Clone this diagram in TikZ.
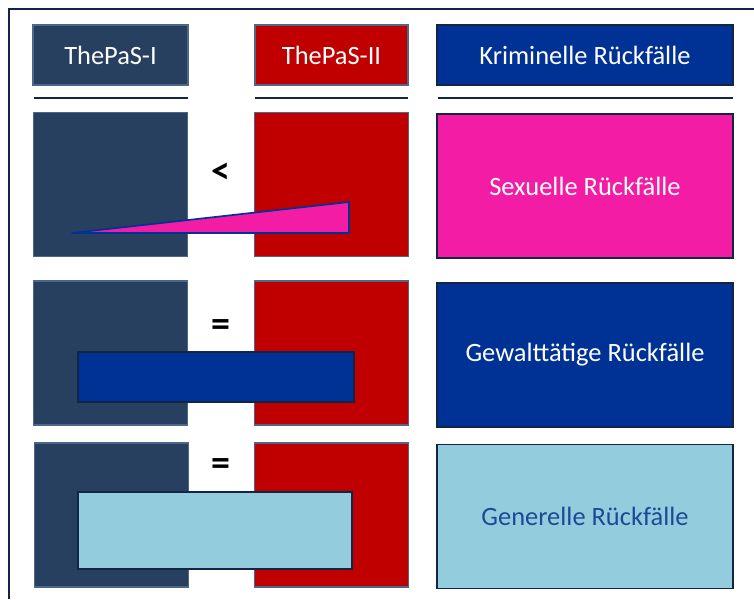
\documentclass[tikz,border=0pt]{standalone}
\usepackage{fontspec}
\setmainfont{Carlito}
\definecolor{tpslate}{RGB}{39,64,96}
\definecolor{tpslateedge}{RGB}{78,102,136}
\definecolor{tpred}{RGB}{192,0,0}
\definecolor{tpnavy}{RGB}{0,50,150}
\definecolor{tpmagenta}{RGB}{242,29,164}
\definecolor{tplight}{RGB}{147,205,221}
\definecolor{tpedge}{RGB}{20,36,68}
\definecolor{tptext}{RGB}{31,73,150}
\usetikzlibrary{positioning}

\begin{document}
\begin{tikzpicture}[x=0.025cm,y=-0.025cm,
  box/.style={rectangle, draw=tpslateedge, line width=0.8pt, inner sep=0pt,
    font=\fontsize{18.8}{22}\selectfont, text=white},
  head/.style={box, minimum height=1.5cm},
  cell/.style={box, minimum width=3.85cm, minimum height=3.6cm},
  result/.style={box, draw=tpedge, minimum width=7.4cm, minimum height=3.6cm},
  bar/.style={rectangle, draw=tpedge, line width=1.2pt, inner sep=0pt},
  rule/.style={draw=tpedge, line width=1.6pt},
  sign/.style={inner sep=0pt, font=\fontsize{27}{30}\selectfont\bfseries}]
  \useasboundingbox (0,0) rectangle (754,599);

  % Frame
  \draw[tpedge, line width=1.6pt] (9,599) -- (9,9) -- (754,9);

  % Header row
  \node[head, fill=tpslate, minimum width=3.875cm] (hI) at (110.5,55) {ThePaS-I};
  \node[head, fill=tpred, minimum width=3.825cm, text=white] (hII) at (331.5,55) {ThePaS-II};
  \node[head, fill=tpnavy, draw=tpedge, minimum width=7.4cm] (hRes) at (585,55) {Kriminelle Rückfälle};
  \draw[rule] (34,98) -- (188,98);
  \draw[rule] (255,98) -- (408,98);
  \draw[rule] (438,98) -- (733,98);

  % Row 1: sexual
  \node[cell, fill=tpslate] (sexI) at (110.5,184.5) {};
  \node[cell, fill=tpred] (sexII) at (331.5,184.5) {};
  \node[sign] (sexSign) at (221,173) {<};
  \draw[fill=tpmagenta, draw=tpnavy, line width=1.2pt, line join=round]
    (72,233) -- (349,202) -- (349,233) -- cycle;
  \node[result, fill=tpmagenta] (sexRes) at (585,186) {Sexuelle Rückfälle};

  % Row 2: violent
  \node[cell, fill=tpslate] (violI) at (110.5,353) {};
  \node[cell, fill=tpred] (violII) at (331.5,353) {};
  \node[sign] (violSign) at (221,328) {=};
  \node[bar, fill=tpnavy, minimum width=6.9cm, minimum height=1.25cm] (violBar) at (216,377) {};
  \node[result, fill=tpnavy] (violRes) at (585,355) {Gewalttätige Rückfälle};

  % Row 3: general
  \node[cell, fill=tpslate] (genI) at (111.5,515) {};
  \node[cell, fill=tpred] (genII) at (331.5,515) {};
  \node[sign] (genSign) at (221,467) {=};
  \node[bar, fill=tplight, minimum width=6.85cm, minimum height=1.925cm] (genBar) at (215,530.5) {};
  \node[result, fill=tplight, text=tptext] (genRes) at (585,516.5) {Generelle Rückfälle};
\end{tikzpicture}
\end{document}
